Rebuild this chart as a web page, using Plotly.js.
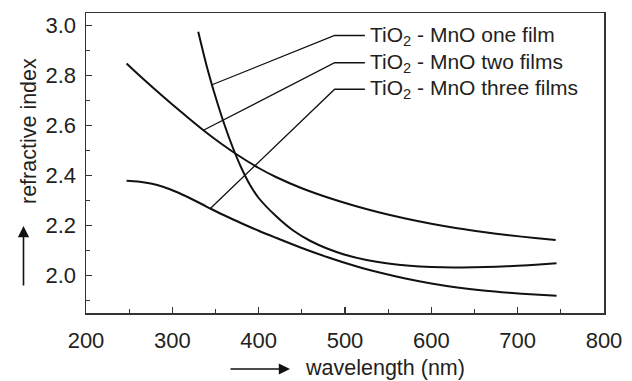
<!DOCTYPE html>
<html>
<head>
<meta charset="utf-8">
<script src="https://cdn.plot.ly/plotly-3.0.1.min.js"></script>
<style>html,body{margin:0;padding:0;background:#fff;}#chart{width:632px;height:381px;}</style>
</head>
<body>
<div id="chart"></div>
<script>
// ---- data ----
const oneFilmX = [330, 340, 350, 360, 370, 380, 390, 400, 420, 440, 460, 480, 500, 525, 550, 575, 600, 625, 650, 675, 700, 725, 745];
const oneFilmY = [2.975, 2.835, 2.715, 2.607, 2.512, 2.430, 2.362, 2.310, 2.238, 2.180, 2.138, 2.107, 2.083, 2.062, 2.048, 2.039, 2.034, 2.032, 2.033, 2.035, 2.039, 2.044, 2.049];

const twoFilmsX = [247, 260, 280, 300, 320, 336, 350, 373, 400, 420, 450, 480, 510, 540, 570, 600, 630, 660, 690, 720, 744];
const twoFilmsY = [2.848, 2.806, 2.744, 2.684, 2.626, 2.581, 2.544, 2.488, 2.430, 2.394, 2.349, 2.312, 2.280, 2.252, 2.228, 2.207, 2.189, 2.174, 2.161, 2.150, 2.142];

const threeFilmsX = [247, 260, 275, 290, 305, 320, 335, 345, 360, 380, 400, 420, 450, 480, 510, 540, 570, 600, 630, 660, 690, 720, 745];
const threeFilmsY = [2.379, 2.376, 2.368, 2.354, 2.334, 2.310, 2.284, 2.266, 2.241, 2.209, 2.179, 2.151, 2.110, 2.073, 2.040, 2.012, 1.988, 1.968, 1.952, 1.940, 1.931, 1.924, 1.919];

// leader lines from curves to labels
const leaderOneX = [346, 488, 523];
const leaderOneY = [2.763, 2.96, 2.96];
const leaderTwoX = [336, 488, 523];
const leaderTwoY = [2.581, 2.851, 2.851];
const leaderThreeX = [344, 488, 523];
const leaderThreeY = [2.268, 2.745, 2.745];

const labels = ["TiO<sub>2</sub> - MnO one film", "TiO<sub>2</sub> - MnO two films", "TiO<sub>2</sub> - MnO three films"];
const labelX = 527;
const labelY = [2.96, 2.851, 2.745];

const xTitle = "wavelength (nm)";
const yTitle = "refractive index";

// ---- styling ----
const W = 632, H = 381;
const M = {l: 86, r: 28, t: 13, b: 68};
const FONT = "Liberation Sans, Arial, Helvetica, sans-serif";
const TXT = "#231f20";
const curveStyle = {color: "#111", width: 2};
const leaderStyle = {color: "#111", width: 1.3};

const pw = W - M.l - M.r, ph = H - M.t - M.b;
const px2paperX = p => (p - M.l) / pw;
const px2paperY = p => (H - M.b - p) / ph;

const curve = (x, y) => ({x, y, type: "scatter", mode: "lines", line: Object.assign({shape: "spline", smoothing: 0.8}, curveStyle), hoverinfo: "skip", showlegend: false});
const leader = (x, y) => ({x, y, type: "scatter", mode: "lines", line: leaderStyle, hoverinfo: "skip", showlegend: false});

const data = [
  leader(leaderOneX, leaderOneY),
  leader(leaderTwoX, leaderTwoY),
  leader(leaderThreeX, leaderThreeY),
  curve(oneFilmX, oneFilmY),
  curve(twoFilmsX, twoFilmsY),
  curve(threeFilmsX, threeFilmsY)
];

const annotations = labels.map((t, i) => ({
  x: labelX, y: labelY[i], xref: "x", yref: "y", text: t, showarrow: false,
  xanchor: "left", yanchor: "middle", font: {family: FONT, size: 21, color: TXT}
}));

// axis titles
annotations.push({
  xref: "paper", yref: "paper", x: px2paperX(29), y: px2paperY(131),
  text: yTitle, textangle: -90, showarrow: false, xanchor: "center", yanchor: "middle",
  font: {family: FONT, size: 21.5, color: TXT}
});
annotations.push({
  xref: "paper", yref: "paper", x: px2paperX(303), y: px2paperY(368),
  text: xTitle, showarrow: false, xanchor: "left", yanchor: "middle",
  font: {family: FONT, size: 21.5, color: TXT}
});
// axis arrows
annotations.push({
  xref: "paper", yref: "paper", x: px2paperX(23.5), y: px2paperY(226), text: "",
  showarrow: true, arrowhead: 2, arrowsize: 1.4, arrowwidth: 1.6, arrowcolor: "#111",
  ax: 0, ay: 61
});
annotations.push({
  xref: "paper", yref: "paper", x: px2paperX(290), y: px2paperY(369), text: "",
  showarrow: true, arrowhead: 2, arrowsize: 1.4, arrowwidth: 1.6, arrowcolor: "#111",
  ax: -61, ay: 0
});

const axisCommon = {
  showline: true, mirror: true, linecolor: "#333", linewidth: 1.5,
  ticks: "inside", ticklen: 6, tickwidth: 1.3, tickcolor: "#333",
  showgrid: false, zeroline: false,
  tickfont: {family: FONT, size: 22, color: TXT}
};

const layout = {
  width: W, height: H,
  margin: M,
  paper_bgcolor: "#fff", plot_bgcolor: "#fff",
  showlegend: false,
  xaxis: Object.assign({}, axisCommon, {
    range: [200, 800], tickmode: "linear", tick0: 200, dtick: 100,
    ticklabelstandoff: 7,
    minor: {dtick: 50, ticks: "inside", ticklen: 4, tickwidth: 1.3, tickcolor: "#333", showgrid: false}
  }),
  yaxis: Object.assign({}, axisCommon, {
    range: [1.85, 3.05], tickmode: "linear", tick0: 2.0, dtick: 0.2, tickformat: ".1f",
    ticklabelstandoff: 4,
    minor: {dtick: 0.1, ticks: "inside", ticklen: 4, tickwidth: 1.3, tickcolor: "#333", showgrid: false}
  }),
  annotations: annotations
};

Plotly.newPlot("chart", data, layout, {staticPlot: true, displayModeBar: false});
</script>
</body>
</html>
